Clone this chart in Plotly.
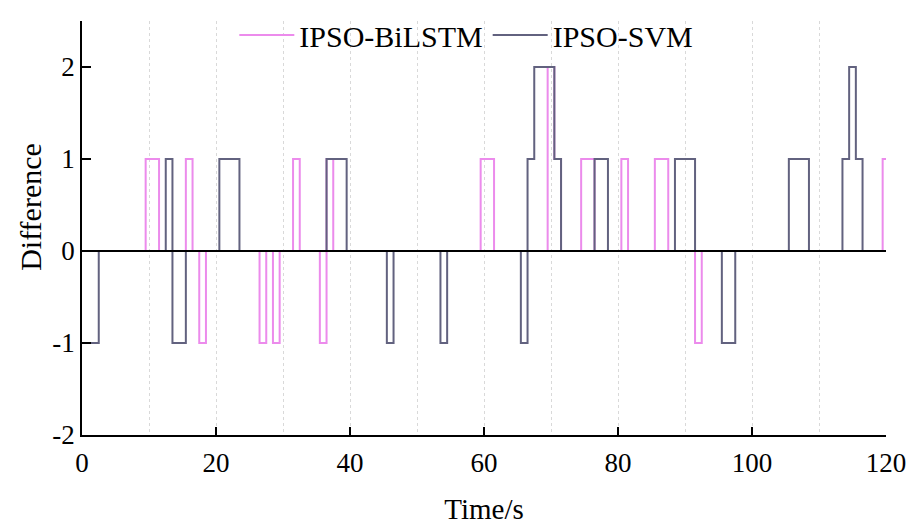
import plotly.graph_objects as go

# time samples (s)
time_s = list(range(0, 121))

# non-zero samples of the difference series (time -> value), all others are 0
bilstm_nonzero = {10: 1, 11: 1, 16: 1, 18: -1, 27: -1, 29: -1, 32: 1, 36: -1, 37: 1,
                  60: 1, 61: 1, 70: 2, 71: 1, 75: 1, 76: 1, 81: 1, 86: 1, 87: 1,
                  92: -1, 120: 1}
svm_nonzero = {0: -1, 1: -1, 2: -1, 13: 1, 14: -1, 15: -1, 21: 1, 22: 1, 23: 1,
               37: 1, 38: 1, 39: 1, 46: -1, 54: -1, 66: -1, 67: 1, 68: 2, 69: 2,
               70: 2, 71: 1, 77: 1, 78: 1, 89: 1, 90: 1, 91: 1, 96: -1, 97: -1,
               106: 1, 107: 1, 108: 1, 114: 1, 115: 2, 116: 1}

bilstm_diff = [bilstm_nonzero.get(t, 0) for t in time_s]
svm_diff = [svm_nonzero.get(t, 0) for t in time_s]

x_ticks = [0, 20, 40, 60, 80, 100, 120]
y_ticks = [-2, -1, 0, 1, 2]

FONT = "Liberation Serif"

fig = go.Figure()
fig.add_trace(go.Scatter(x=time_s, y=bilstm_diff, mode="lines", name="IPSO-BiLSTM",
                         line=dict(color="#EC8BEC", width=2, shape="hvh")))
fig.add_trace(go.Scatter(x=time_s, y=svm_diff, mode="lines", name="IPSO-SVM",
                         line=dict(color="#62627F", width=2, shape="hvh")))

# zero reference line drawn above the traces
fig.add_shape(type="line", xref="paper", yref="y", x0=0, x1=1, y0=0, y1=0,
              line=dict(color="black", width=2), layer="above")

# y-axis title as annotation (slightly above centre, as in the original)
fig.add_annotation(text="Difference", xref="paper", yref="paper",
                   x=-0.064, y=0.55, xanchor="center", yanchor="middle",
                   textangle=-90, showarrow=False,
                   font=dict(family=FONT, size=30, color="black"))

fig.update_layout(
    width=911, height=525,
    margin=dict(l=82, r=25, t=21, b=90, autoexpand=False),
    paper_bgcolor="white", plot_bgcolor="white",
    font=dict(family=FONT, size=27, color="black"),
    showlegend=True,
    legend=dict(orientation="h", x=0.478, xanchor="center", y=0.966, yanchor="middle",
                bgcolor="rgba(0,0,0,0)", font=dict(family=FONT, size=30),
                itemwidth=55, tracegroupgap=0),
    xaxis=dict(range=[0, 120], tickvals=x_ticks, ticktext=[str(v) for v in x_ticks],
               ticks="inside", ticklen=8, tickwidth=1.5, tickcolor="black",
               showline=True, linecolor="black", linewidth=1.5,
               showgrid=False, zeroline=False, automargin=False,
               ticklabelstandoff=3,
               minor=dict(dtick=10, tick0=0, showgrid=True, gridcolor="#d9d9d9",
                          griddash="dot", gridwidth=1, ticks=""),
               title=dict(text="Time/s", font=dict(family=FONT, size=29), standoff=28),
               tickfont=dict(family=FONT, size=27)),
    yaxis=dict(range=[-2, 2.5], tickvals=y_ticks, ticktext=[str(v) for v in y_ticks],
               ticks="inside", ticklen=9, tickwidth=1.5, tickcolor="black",
               showline=True, linecolor="black", linewidth=1.5,
               showgrid=False, zeroline=False, automargin=False,
               tickfont=dict(family=FONT, size=27)),
)

fig.write_html("out.html")
